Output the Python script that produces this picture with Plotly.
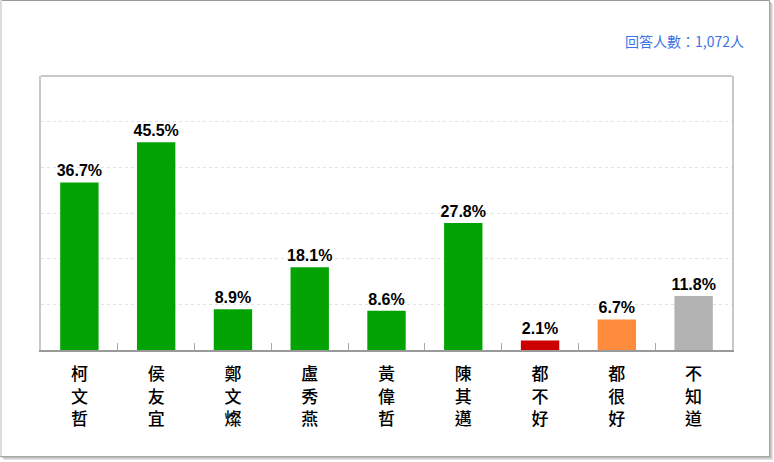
import plotly.graph_objects as go

categories = ["柯文哲", "侯友宜", "鄭文燦", "盧秀燕", "黃偉哲", "陳其邁", "都不好", "都很好", "不知道"]
values = [36.7, 45.5, 8.9, 18.1, 8.6, 27.8, 2.1, 6.7, 11.8]
colors = ["#04a304"] * 6 + ["#cc0000", "#ff8c3c", "#b3b3b3"]
note = "回答人數：1,072人"

ticktext = ["<br>".join(list(c)) for c in categories]

# plot area in pixels
L, R, T, B = 41, 732, 76, 350
W, H = R - L, B - T


def px(x):
    return (x - L) / W


def py(y):
    return (B - y) / H


fig = go.Figure()
fig.add_trace(go.Bar(
    x=categories, y=values,
    marker=dict(color=colors, line=dict(width=0)),
    width=0.5,
    text=[f"{v}%" for v in values],
    textposition="outside",
    constraintext="none",
    textfont=dict(family="Liberation Sans, Arial", size=16, color="black"),
    texttemplate="<b>%{text}</b>",
    cliponaxis=False,
))

fig.update_layout(
    width=774, height=462,
    margin=dict(l=L, r=774 - R, t=T, b=462 - B, autoexpand=False),
    paper_bgcolor="white", plot_bgcolor="white",
    showlegend=False,
    font=dict(family="Noto Sans CJK TC, Liberation Sans"),
)
fig.update_xaxes(
    type="category",
    tickmode="array", tickvals=categories, ticktext=ticktext,
    tickfont=dict(size=17, color="black", family="Liberation Sans, Noto Sans CJK TC", weight=500),
    ticks="inside", tickson="boundaries", ticklen=7, tickcolor="#aaaaaa",
    ticklabelstandoff=8,
    showline=True, linecolor="#999999", linewidth=2, mirror=False,
    showgrid=False, automargin=False,
)
fig.update_yaxes(
    range=[0, 60], dtick=10,
    showticklabels=False,
    showgrid=True, gridcolor="#e2e2e2", gridwidth=1, griddash="dot",
    showline=True, linecolor="#c8c8c8", linewidth=2, mirror=True,
    zeroline=False, ticks="", automargin=False,
)
fig.add_shape(type="line", xref="paper", yref="paper", x0=0, x1=1, y0=1, y1=1,
              line=dict(color="#c8c8c8", width=2))

# outer frame
frame = [
    (0, 0.5, 770, 0.5, "#9a9a9a", 1),
    (1, 0, 1, 457, "#dcdcdc", 2),
    (769.5, 0, 769.5, 457, "#a8a8a8", 1),
    (770.5, 2, 770.5, 458, "#bcbcbc", 1),
    (771.5, 3, 771.5, 459, "#d0d0d0", 1),
    (772.5, 4, 772.5, 460, "#e4e4e4", 1),
    (0, 456.5, 770, 456.5, "#a8a8a8", 1),
    (2, 457.5, 771, 457.5, "#bcbcbc", 1),
    (3, 458.5, 772, 458.5, "#d0d0d0", 1),
    (4, 459.5, 773, 459.5, "#e4e4e4", 1),
]
for x0, y0, x1, y1, c, w in frame:
    fig.add_shape(type="line", xref="paper", yref="paper",
                  x0=px(x0), x1=px(x1), y0=py(y0), y1=py(y1),
                  line=dict(color=c, width=w))

fig.add_annotation(
    text=note, xref="paper", yref="paper",
    x=px(746), y=py(41),
    xanchor="right", yanchor="middle", showarrow=False,
    font=dict(size=14, color="#3b73e6", family="Noto Sans CJK TC"),
)

fig.write_html("out.html", config={"displayModeBar": False},
               post_script="document.body.style.margin='0';document.body.style.padding='0';")
